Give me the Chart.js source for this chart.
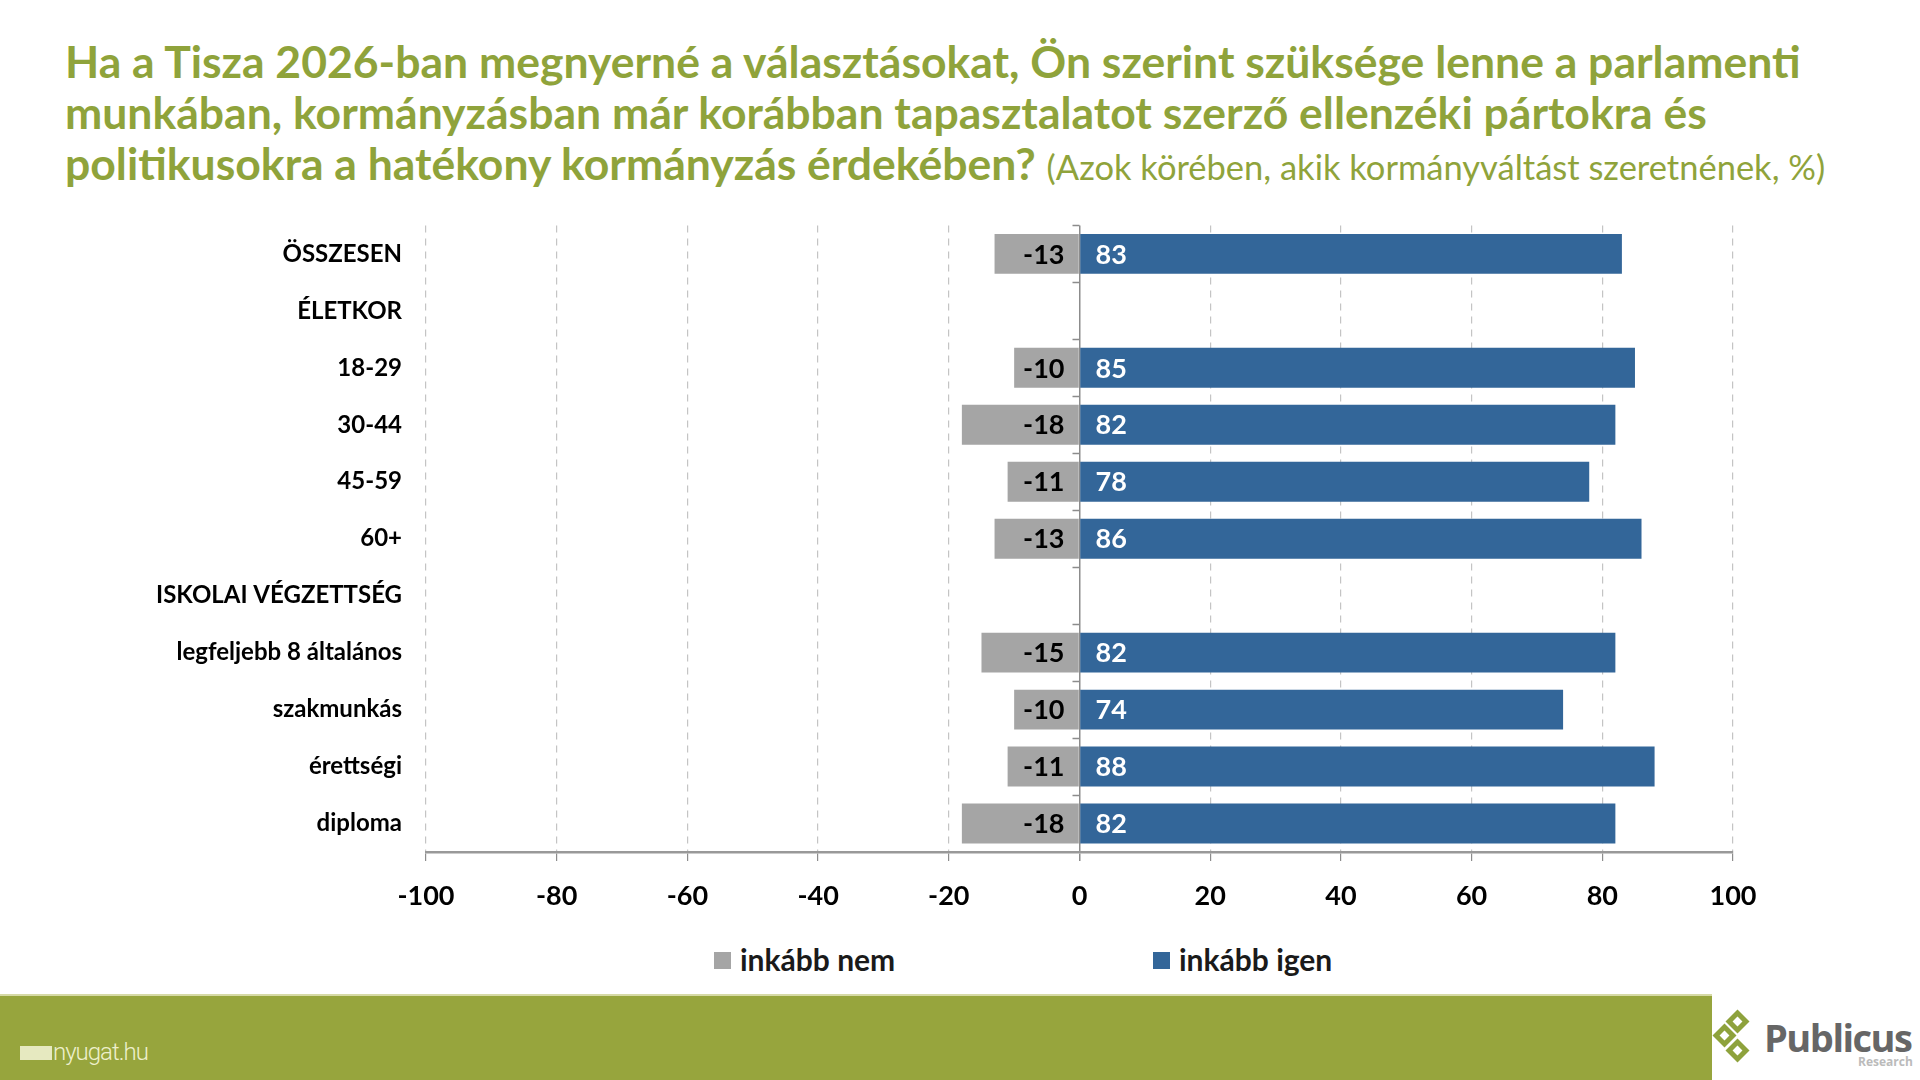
<!DOCTYPE html>
<html>
<head>
<meta charset="utf-8">
<script src="https://cdn.jsdelivr.net/npm/chart.js@4.4.1/dist/chart.umd.min.js"></script>
<style>
    html, body { margin: 0; padding: 0; background: #fff; }
    body { width: 1920px; height: 1080px; position: relative; overflow: hidden; font-family: Lato, "Open Sans", sans-serif; }
    #title { position: absolute; left: 65px; top: 35px; font-size: 44.5px; line-height: 51px; font-weight: 700; color: #8fa33b; white-space: nowrap; }
    #title span { font-weight: 400; font-size: 34.5px; }
    #chartBox { position: absolute; left: 0; top: 187px; width: 1920px; height: 747px; }
    .legend { position: absolute; top: 942px; font-size: 30px; font-weight: 700; color: #1a1a1a; line-height: 34px; }
    .legend i { display: inline-block; width: 17px; height: 17px; margin-right: 9px; vertical-align: 2px; }
    #footer { position: absolute; left: 0; top: 994px; width: 1712px; height: 86px; background: #97a53d; border-top: 2px solid #d6daa6; box-sizing: border-box; }
    #nyugat { position: absolute; left: 20px; top: 1038px; color: #eef0cc; font-family: Roboto, sans-serif; font-weight: 300; font-size: 24px; letter-spacing: -1px; }
    #nyugat b { display: inline-block; width: 32px; height: 14px; background: #e6e9c0; margin-right: 1px; vertical-align: 0; }
    .dia { position: absolute; width: 17px; height: 17px; background: #8ea23c; transform: rotate(45deg); }
    .dia::after { content: ''; position: absolute; left: 5px; top: 5px; width: 7px; height: 7px; background: #fff; }
    #pub { position: absolute; left: 1764px; top: 1011px; font-family: "Open Sans", sans-serif; font-weight: 700; font-size: 38px; color: #666; letter-spacing: -1.5px; }
    #res { position: absolute; left: 1858px; top: 1053px; font-family: "Open Sans", sans-serif; font-weight: 700; font-size: 12px; color: #bbb; }
</style>
</head>
<body>
<div id="title">Ha a Tisza 2026-ban megnyerné a választásokat, Ön szerint szüksége lenne a parlamenti<br>munkában, kormányzásban már korábban tapasztalatot szerző ellenzéki pártokra és<br>politikusokra a hatékony kormányzás érdekében? <span>(Azok körében, akik kormányváltást szeretnének, %)</span></div>
<div id="chartBox"><canvas id="barChart"></canvas></div>
<div class="legend" style="left:714px"><i style="background:#a5a5a5"></i>inkább nem</div>
<div class="legend" style="left:1153px"><i style="background:#336699"></i>inkább igen</div>
<div id="footer"></div>
<div id="nyugat"><b></b>nyugat.hu</div>
<div class="dia" style="left:1729px; top:1013px"></div>
<div class="dia" style="left:1716px; top:1027px"></div>
<div class="dia" style="left:1729px; top:1042px"></div>
<div id="pub">Publicus</div>
<div id="res">Research</div>
<script>
const categories = ['ÖSSZESEN', 'ÉLETKOR', '18-29', '30-44', '45-59', '60+', 'ISKOLAI VÉGZETTSÉG', 'legfeljebb 8 általános', 'szakmunkás', 'érettségi', 'diploma'];
const inkabbNem = [-13, null, -10, -18, -11, -13, null, -15, -10, -11, -18];
const inkabbIgen = [83, null, 85, 82, 78, 86, null, 82, 74, 88, 82];
const xTicks = [-100, -80, -60, -40, -20, 0, 20, 40, 60, 80, 100];

const barLabels = {
    id: 'barLabels',
    afterDatasetsDraw(chart) {
        const ctx = chart.ctx;
        const zero = chart.scales.x.getPixelForValue(0);
        ctx.save();
        ctx.font = 'bold 27px Lato';
        ctx.textBaseline = 'middle';
        chart.data.datasets.forEach((ds, di) => {
            chart.getDatasetMeta(di).data.forEach((bar, i) => {
                const v = ds.data[i];
                if (v === null) return;
                if (v < 0) {
                    ctx.fillStyle = '#000';
                    ctx.textAlign = 'right';
                    ctx.fillText(v, zero - 15, bar.y + 1);
                } else {
                    ctx.fillStyle = '#fff';
                    ctx.textAlign = 'left';
                    ctx.fillText(v, zero + 16, bar.y + 1);
                }
            });
        });
        ctx.restore();
    }
};

// short tick marks on the left of the zero line, between categories
const zeroTicks = {
    id: 'zeroTicks',
    afterDraw(chart) {
        const ctx = chart.ctx;
        const x = chart.scales.x.getPixelForValue(0);
        const area = chart.chartArea;
        const step = (area.bottom - area.top) / categories.length;
        ctx.save();
        ctx.strokeStyle = '#8c8c8c';
        ctx.lineWidth = 1.5;
        ctx.beginPath();
        for (let i = 0; i < categories.length; i++) {
            const y = Math.round(area.top + i * step) + 0.5;
            ctx.moveTo(x - 7, y);
            ctx.lineTo(x, y);
        }
        ctx.stroke();
        ctx.restore();
    }
};

new Chart(document.getElementById('barChart').getContext('2d'), {
    type: 'bar',
    data: {
        labels: categories,
        datasets: [{
            label: 'inkább nem',
            data: inkabbNem,
            backgroundColor: '#a5a5a5',
            barPercentage: 0.7,
            categoryPercentage: 1
        }, {
            label: 'inkább igen',
            data: inkabbIgen,
            backgroundColor: '#336699',
            barPercentage: 0.7,
            categoryPercentage: 1
        }]
    },
    options: {
        indexAxis: 'y',
        responsive: true,
        maintainAspectRatio: false,
        animation: false,
        layout: { padding: { top: 10, right: 187, left: 0, bottom: 0 } },
        plugins: {
            legend: { display: false },
            tooltip: { enabled: false }
        },
        scales: {
            x: {
                stacked: true,
                min: -100,
                max: 100,
                afterBuildTicks: scale => { scale.ticks = xTicks.map(v => ({ value: v })); },
                afterFit: scale => { scale.height = 82; },
                grid: {
                    color: c => c.tick && c.tick.value === 0 ? '#8c8c8c' : '#c4c4c4',
                    lineWidth: c => c.tick && c.tick.value === 0 ? 1.5 : 1.2,
                    tickColor: '#8c8c8c',
                    tickLength: 9
                },
                border: {
                    display: true,
                    color: '#999',
                    width: 2.5,
                    dash: c => c.tick && c.tick.value === 0 ? [] : [7, 6]
                },
                ticks: {
                    color: '#000',
                    font: { family: 'Lato', size: 27, weight: 'bold' },
                    padding: 19,
                    maxRotation: 0
                }
            },
            y: {
                stacked: true,
                afterFit: scale => { scale.width = 426; },
                grid: { display: false, drawTicks: false },
                border: { display: false },
                ticks: {
                    color: '#000',
                    font: { family: 'Lato', size: 24, weight: 'bold' },
                    padding: 24
                }
            }
        }
    },
    plugins: [barLabels, zeroTicks]
});
</script>
</body>
</html>
